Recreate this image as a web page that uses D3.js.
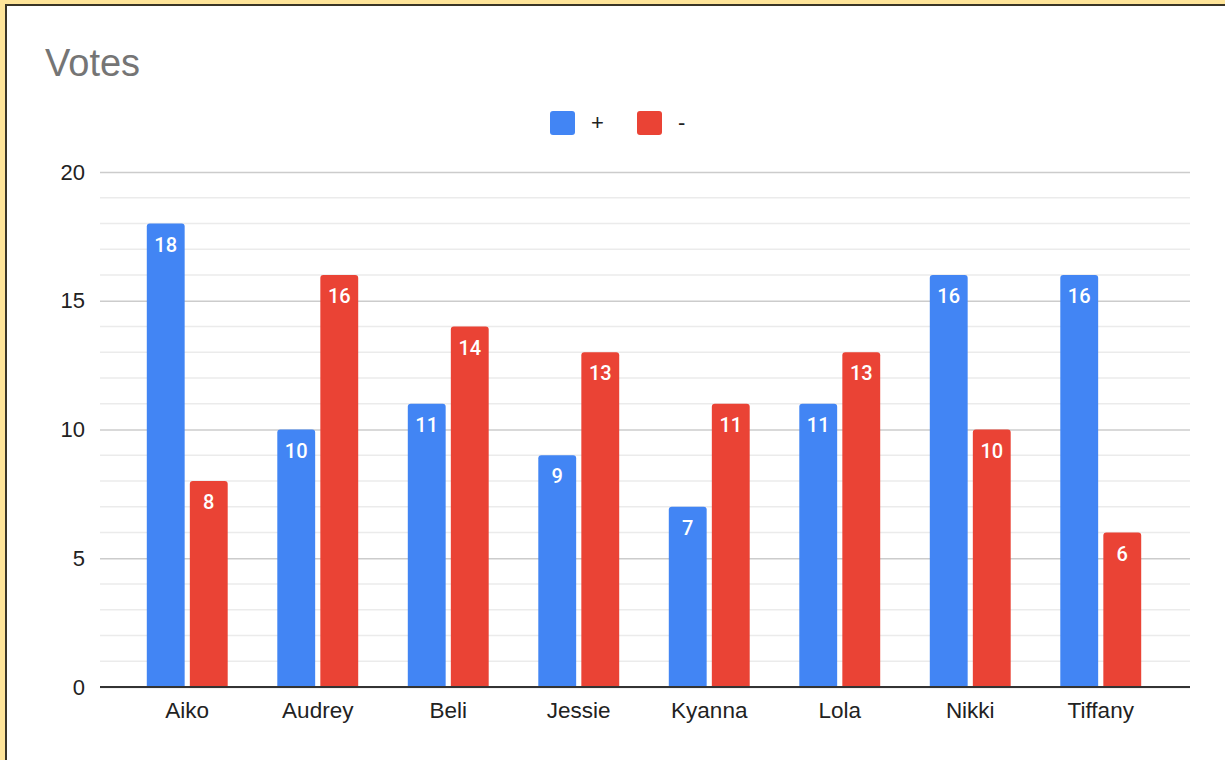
<!DOCTYPE html>
<html>
<head>
<meta charset="utf-8">
<script src="https://cdn.jsdelivr.net/npm/d3@7"></script>
<style>
  html, body { margin: 0; padding: 0; background: #ffe599; }
  svg { display: block; }
</style>
</head>
<body>
<svg id="chart" width="1225" height="760"></svg>
<script>
// Vote tallies per person
const categories = ["Aiko", "Audrey", "Beli", "Jessie", "Kyanna", "Lola", "Nikki", "Tiffany"];
const seriesNames = ["+", "-"];
const plusVotes = [18, 10, 11, 9, 7, 11, 16, 16];
const minusVotes = [8, 16, 14, 13, 11, 13, 10, 6];
const yTicks = [0, 5, 10, 15, 20];
const colors = ["#4285f4", "#ea4335"];

const svg = d3.select("#chart");
const W = 1225, H = 760;
const sans = "'Liberation Sans', Arial, sans-serif";
const labelFont = "Roboto, Arial, sans-serif";

// frame: yellow margin, dark border, white panel
svg.append("rect").attr("x", 0).attr("y", 0).attr("width", W).attr("height", H).attr("fill", "#ffe599");
svg.append("rect").attr("x", 6).attr("y", 5).attr("width", W).attr("height", H).attr("fill", "#fff")
  .attr("stroke", "#3a3526").attr("stroke-width", 2);

svg.append("text").attr("x", 45).attr("y", 76)
  .attr("font-family", sans).attr("font-size", 38).attr("fill", "#757575")
  .text("Votes");

const plotLeft = 100, plotRight = 1190;
const y = d3.scaleLinear().domain([0, 20]).range([687, 172]);
const x = d3.scaleBand().domain(categories).range([122, 1166]).paddingInner(0.38).paddingOuter(0.19);
const xs = d3.scaleBand().domain(seriesNames).range([0, x.bandwidth()]).paddingInner(0.12);

// minor gridlines
const minor = d3.range(1, 20).filter(v => v % 5 !== 0);
svg.append("g").selectAll("line").data(minor).join("line")
  .attr("x1", plotLeft).attr("x2", plotRight)
  .attr("y1", d => y(d)).attr("y2", d => y(d))
  .attr("stroke", "#ebebeb").attr("stroke-width", 1.5);

// major gridlines + labels
const yAxis = d3.axisLeft(y).tickValues(yTicks).tickSize(-(plotRight - plotLeft)).tickPadding(15);
const gy = svg.append("g").attr("transform", `translate(${plotLeft},0)`).call(yAxis);
gy.select(".domain").remove();
gy.selectAll(".tick line").attr("stroke", "#cccccc").attr("stroke-width", 1.5);
gy.selectAll(".tick text").attr("font-family", sans).attr("font-size", 22).attr("fill", "#222");

// bars
const rows = categories.map((c, i) => ({ c, vals: [plusVotes[i], minusVotes[i]] }));
const r = 3;
function barPath(x0, w, yTop, yBot) {
  return `M${x0},${yBot}V${yTop + r}Q${x0},${yTop} ${x0 + r},${yTop}H${x0 + w - r}Q${x0 + w},${yTop} ${x0 + w},${yTop + r}V${yBot}Z`;
}
const groups = svg.append("g").selectAll("g").data(rows).join("g")
  .attr("transform", d => `translate(${x(d.c)},0)`);
groups.selectAll("path").data(d => d.vals.map((v, j) => ({ v, s: seriesNames[j], j }))).join("path")
  .attr("d", d => barPath(xs(d.s), xs.bandwidth(), y(d.v), y(0)))
  .attr("fill", d => colors[d.j]);
groups.selectAll("text").data(d => d.vals.map((v, j) => ({ v, s: seriesNames[j] }))).join("text")
  .attr("x", d => xs(d.s) + xs.bandwidth() / 2)
  .attr("y", d => y(d.v) + 28)
  .attr("text-anchor", "middle")
  .attr("font-family", labelFont).attr("font-size", 20).attr("font-weight", 500)
  .attr("fill", "#fff")
  .text(d => d.v);

// baseline
svg.append("line").attr("x1", plotLeft).attr("x2", plotRight).attr("y1", y(0)).attr("y2", y(0))
  .attr("stroke", "#333").attr("stroke-width", 2);

// x axis labels
const xAxis = d3.axisBottom(x).tickSize(0).tickPadding(15);
const gx = svg.append("g").attr("transform", `translate(0,${y(0)})`).call(xAxis);
gx.select(".domain").remove();
gx.selectAll(".tick text").attr("font-family", sans).attr("font-size", 22.5).attr("fill", "#222");

// legend
const legend = svg.append("g");
const legendItems = [{ name: seriesNames[0], x: 550 }, { name: seriesNames[1], x: 637 }];
legendItems.forEach((it, i) => {
  legend.append("rect").attr("x", it.x).attr("y", 111).attr("width", 25).attr("height", 24).attr("rx", 3)
    .attr("fill", colors[i]);
  legend.append("text").attr("x", it.x + 41).attr("y", 130)
    .attr("font-family", sans).attr("font-size", 22).attr("fill", "#222")
    .text(it.name);
});
</script>
</body>
</html>
